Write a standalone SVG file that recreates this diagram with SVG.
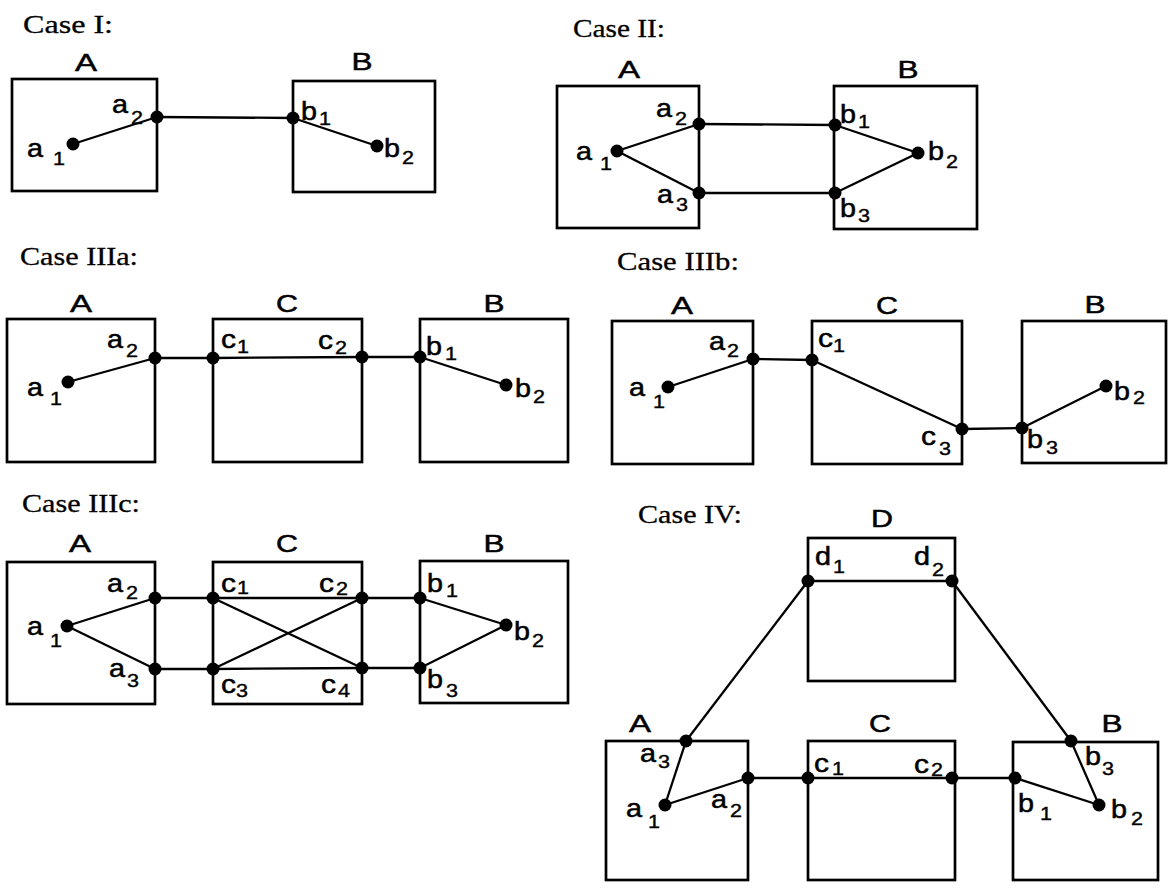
<svg xmlns="http://www.w3.org/2000/svg" width="1168" height="888" viewBox="0 0 1168 888">
<style>
.bx{fill:none;stroke:#000;stroke-width:2.7}
.ln{fill:none;stroke:#000;stroke-width:2.3}
.dt{fill:#000}
.t{font-family:"Liberation Serif","Times New Roman",serif;font-size:26px;fill:#000;stroke:#000;stroke-width:0.3}
.n{font-family:"Liberation Sans",Arial,sans-serif;font-size:24px;fill:#000;text-anchor:middle;stroke:#000;stroke-width:0.5}
.l{font-family:"Liberation Sans",Arial,sans-serif;font-size:25px;fill:#000;stroke:#000;stroke-width:0.5}
.s{font-family:"Liberation Sans",Arial,sans-serif;font-size:19px;fill:#000;stroke:#000;stroke-width:0.4}
</style>

<!-- Case I -->
<g id="caseI">
<text class="t" x="23" y="33" textLength="90" lengthAdjust="spacingAndGlyphs">Case I:</text>
<g id="caseI-A">
<rect class="bx" x="12" y="79" width="145" height="112"/>
<text class="n" x="86" y="71" textLength="22" lengthAdjust="spacingAndGlyphs">A</text>
<circle class="dt" cx="73" cy="144" r="6.5"/><circle class="dt" cx="157" cy="117" r="6.5"/>
<text class="l" x="27" y="157" textLength="16" lengthAdjust="spacingAndGlyphs">a</text><text class="s" x="53" y="165" textLength="12" lengthAdjust="spacingAndGlyphs">1</text>
<text class="l" x="112" y="113" textLength="16" lengthAdjust="spacingAndGlyphs">a</text><text class="s" x="131" y="124" textLength="12" lengthAdjust="spacingAndGlyphs">2</text>
</g>
<g id="caseI-B">
<rect class="bx" x="293" y="81" width="142" height="111"/>
<text class="n" x="362" y="70" textLength="21" lengthAdjust="spacingAndGlyphs">B</text>
<circle class="dt" cx="293" cy="118" r="6.5"/><circle class="dt" cx="377" cy="146" r="6.5"/>
<text class="l" x="301" y="120" textLength="16" lengthAdjust="spacingAndGlyphs">b</text><text class="s" x="319" y="125" textLength="12" lengthAdjust="spacingAndGlyphs">1</text>
<text class="l" x="384" y="157" textLength="16" lengthAdjust="spacingAndGlyphs">b</text><text class="s" x="402" y="164" textLength="12" lengthAdjust="spacingAndGlyphs">2</text>
</g>
<g id="caseI-edges">
<line class="ln" x1="73" y1="144" x2="157" y2="117"/>
<line class="ln" x1="157" y1="117" x2="293" y2="118"/>
<line class="ln" x1="293" y1="118" x2="377" y2="146"/>
</g>
</g>

<!-- Case II -->
<g id="caseII">
<text class="t" x="573" y="37" textLength="92" lengthAdjust="spacingAndGlyphs">Case II:</text>
<g id="caseII-A">
<rect class="bx" x="557" y="86" width="142" height="142"/>
<text class="n" x="629" y="78" textLength="22" lengthAdjust="spacingAndGlyphs">A</text>
<circle class="dt" cx="617" cy="151" r="6.5"/><circle class="dt" cx="699" cy="124" r="6.5"/><circle class="dt" cx="699" cy="193" r="6.5"/>
<text class="l" x="576" y="160" textLength="16" lengthAdjust="spacingAndGlyphs">a</text><text class="s" x="600" y="170" textLength="12" lengthAdjust="spacingAndGlyphs">1</text>
<text class="l" x="656" y="117" textLength="16" lengthAdjust="spacingAndGlyphs">a</text><text class="s" x="675" y="125" textLength="12" lengthAdjust="spacingAndGlyphs">2</text>
<text class="l" x="657" y="203" textLength="16" lengthAdjust="spacingAndGlyphs">a</text><text class="s" x="676" y="211" textLength="12" lengthAdjust="spacingAndGlyphs">3</text>
</g>
<g id="caseII-B">
<rect class="bx" x="834" y="86" width="143" height="143"/>
<text class="n" x="908" y="78" textLength="21" lengthAdjust="spacingAndGlyphs">B</text>
<circle class="dt" cx="835" cy="125" r="6.5"/><circle class="dt" cx="918" cy="153" r="6.5"/><circle class="dt" cx="835" cy="193" r="6.5"/>
<text class="l" x="840" y="123" textLength="16" lengthAdjust="spacingAndGlyphs">b</text><text class="s" x="858" y="128" textLength="12" lengthAdjust="spacingAndGlyphs">1</text>
<text class="l" x="928" y="160" textLength="16" lengthAdjust="spacingAndGlyphs">b</text><text class="s" x="946" y="168" textLength="12" lengthAdjust="spacingAndGlyphs">2</text>
<text class="l" x="840" y="217" textLength="16" lengthAdjust="spacingAndGlyphs">b</text><text class="s" x="858" y="222" textLength="12" lengthAdjust="spacingAndGlyphs">3</text>
</g>
<g id="caseII-edges">
<line class="ln" x1="617" y1="151" x2="699" y2="124"/>
<line class="ln" x1="617" y1="151" x2="699" y2="193"/>
<line class="ln" x1="699" y1="124" x2="835" y2="125"/>
<line class="ln" x1="699" y1="193" x2="835" y2="193"/>
<line class="ln" x1="835" y1="125" x2="918" y2="153"/>
<line class="ln" x1="835" y1="193" x2="918" y2="153"/>
</g>
</g>

<!-- Case IIIa -->
<g id="caseIIIa">
<text class="t" x="20" y="265" textLength="118" lengthAdjust="spacingAndGlyphs">Case IIIa:</text>
<g id="caseIIIa-A">
<rect class="bx" x="7" y="319" width="148" height="143"/>
<text class="n" x="81" y="312" textLength="22" lengthAdjust="spacingAndGlyphs">A</text>
<circle class="dt" cx="68" cy="382" r="6.5"/><circle class="dt" cx="155" cy="358" r="6.5"/>
<text class="l" x="27" y="396" textLength="16" lengthAdjust="spacingAndGlyphs">a</text><text class="s" x="50" y="405" textLength="12" lengthAdjust="spacingAndGlyphs">1</text>
<text class="l" x="107" y="348" textLength="16" lengthAdjust="spacingAndGlyphs">a</text><text class="s" x="126" y="357" textLength="12" lengthAdjust="spacingAndGlyphs">2</text>
</g>
<g id="caseIIIa-C">
<rect class="bx" x="213" y="319" width="149" height="143"/>
<text class="n" x="287" y="312" textLength="22" lengthAdjust="spacingAndGlyphs">C</text>
<circle class="dt" cx="213" cy="358" r="6.5"/><circle class="dt" cx="362" cy="357" r="6.5"/>
<text class="l" x="221" y="348" textLength="15" lengthAdjust="spacingAndGlyphs">c</text><text class="s" x="237" y="353" textLength="12" lengthAdjust="spacingAndGlyphs">1</text>
<text class="l" x="318" y="349" textLength="15" lengthAdjust="spacingAndGlyphs">c</text><text class="s" x="335" y="354" textLength="12" lengthAdjust="spacingAndGlyphs">2</text>
</g>
<g id="caseIIIa-B">
<rect class="bx" x="420" y="319" width="148" height="143"/>
<text class="n" x="494" y="312" textLength="21" lengthAdjust="spacingAndGlyphs">B</text>
<circle class="dt" cx="420" cy="357" r="6.5"/><circle class="dt" cx="506" cy="385" r="6.5"/>
<text class="l" x="426" y="355" textLength="16" lengthAdjust="spacingAndGlyphs">b</text><text class="s" x="445" y="360" textLength="12" lengthAdjust="spacingAndGlyphs">1</text>
<text class="l" x="515" y="397" textLength="16" lengthAdjust="spacingAndGlyphs">b</text><text class="s" x="533" y="403" textLength="12" lengthAdjust="spacingAndGlyphs">2</text>
</g>
<g id="caseIIIa-edges">
<line class="ln" x1="68" y1="382" x2="155" y2="358"/>
<line class="ln" x1="155" y1="358" x2="213" y2="358"/>
<line class="ln" x1="213" y1="358" x2="362" y2="357"/>
<line class="ln" x1="362" y1="357" x2="420" y2="357"/>
<line class="ln" x1="420" y1="357" x2="506" y2="385"/>
</g>
</g>

<!-- Case IIIb -->
<g id="caseIIIb">
<text class="t" x="617" y="270" textLength="122" lengthAdjust="spacingAndGlyphs">Case IIIb:</text>
<g id="caseIIIb-A">
<rect class="bx" x="612" y="321" width="141" height="143"/>
<text class="n" x="682" y="314" textLength="22" lengthAdjust="spacingAndGlyphs">A</text>
<circle class="dt" cx="668" cy="387" r="6.5"/><circle class="dt" cx="753" cy="359" r="6.5"/>
<text class="l" x="629" y="396" textLength="16" lengthAdjust="spacingAndGlyphs">a</text><text class="s" x="653" y="408" textLength="12" lengthAdjust="spacingAndGlyphs">1</text>
<text class="l" x="709" y="350" textLength="16" lengthAdjust="spacingAndGlyphs">a</text><text class="s" x="727" y="357" textLength="12" lengthAdjust="spacingAndGlyphs">2</text>
</g>
<g id="caseIIIb-C">
<rect class="bx" x="812" y="321" width="150" height="143"/>
<text class="n" x="887" y="314" textLength="22" lengthAdjust="spacingAndGlyphs">C</text>
<circle class="dt" cx="812" cy="360" r="6.5"/><circle class="dt" cx="962" cy="429" r="6.5"/>
<text class="l" x="818" y="347" textLength="15" lengthAdjust="spacingAndGlyphs">c</text><text class="s" x="833" y="352" textLength="12" lengthAdjust="spacingAndGlyphs">1</text>
<text class="l" x="921" y="445" textLength="15" lengthAdjust="spacingAndGlyphs">c</text><text class="s" x="939" y="455" textLength="12" lengthAdjust="spacingAndGlyphs">3</text>
</g>
<g id="caseIIIb-B">
<rect class="bx" x="1022" y="321" width="144" height="142"/>
<text class="n" x="1095" y="313" textLength="21" lengthAdjust="spacingAndGlyphs">B</text>
<circle class="dt" cx="1022" cy="428" r="6.5"/><circle class="dt" cx="1106" cy="386" r="6.5"/>
<text class="l" x="1027" y="448" textLength="16" lengthAdjust="spacingAndGlyphs">b</text><text class="s" x="1046" y="454" textLength="12" lengthAdjust="spacingAndGlyphs">3</text>
<text class="l" x="1114" y="400" textLength="16" lengthAdjust="spacingAndGlyphs">b</text><text class="s" x="1133" y="404" textLength="12" lengthAdjust="spacingAndGlyphs">2</text>
</g>
<g id="caseIIIb-edges">
<line class="ln" x1="668" y1="387" x2="753" y2="359"/>
<line class="ln" x1="753" y1="359" x2="812" y2="360"/>
<line class="ln" x1="812" y1="360" x2="962" y2="429"/>
<line class="ln" x1="962" y1="429" x2="1022" y2="428"/>
<line class="ln" x1="1022" y1="428" x2="1106" y2="386"/>
</g>
</g>

<!-- Case IIIc -->
<g id="caseIIIc">
<text class="t" x="22" y="512" textLength="118" lengthAdjust="spacingAndGlyphs">Case IIIc:</text>
<g id="caseIIIc-A">
<rect class="bx" x="7" y="562" width="148" height="142"/>
<text class="n" x="80" y="552" textLength="22" lengthAdjust="spacingAndGlyphs">A</text>
<circle class="dt" cx="67" cy="626" r="6.5"/><circle class="dt" cx="155" cy="598" r="6.5"/><circle class="dt" cx="155" cy="669" r="6.5"/>
<text class="l" x="27" y="635" textLength="16" lengthAdjust="spacingAndGlyphs">a</text><text class="s" x="50" y="647" textLength="12" lengthAdjust="spacingAndGlyphs">1</text>
<text class="l" x="107" y="592" textLength="16" lengthAdjust="spacingAndGlyphs">a</text><text class="s" x="126" y="599" textLength="12" lengthAdjust="spacingAndGlyphs">2</text>
<text class="l" x="109" y="677" textLength="16" lengthAdjust="spacingAndGlyphs">a</text><text class="s" x="127" y="687" textLength="12" lengthAdjust="spacingAndGlyphs">3</text>
</g>
<g id="caseIIIc-C">
<rect class="bx" x="213" y="562" width="149" height="142"/>
<text class="n" x="287" y="552" textLength="22" lengthAdjust="spacingAndGlyphs">C</text>
<circle class="dt" cx="213" cy="598" r="6.5"/><circle class="dt" cx="362" cy="598" r="6.5"/><circle class="dt" cx="213" cy="669" r="6.5"/><circle class="dt" cx="362" cy="668" r="6.5"/>
<text class="l" x="221" y="592" textLength="15" lengthAdjust="spacingAndGlyphs">c</text><text class="s" x="237" y="594" textLength="12" lengthAdjust="spacingAndGlyphs">1</text>
<text class="l" x="319" y="592" textLength="15" lengthAdjust="spacingAndGlyphs">c</text><text class="s" x="336" y="595" textLength="12" lengthAdjust="spacingAndGlyphs">2</text>
<text class="l" x="221" y="693" textLength="15" lengthAdjust="spacingAndGlyphs">c</text><text class="s" x="236" y="697" textLength="12" lengthAdjust="spacingAndGlyphs">3</text>
<text class="l" x="321" y="693" textLength="15" lengthAdjust="spacingAndGlyphs">c</text><text class="s" x="338" y="697" textLength="12" lengthAdjust="spacingAndGlyphs">4</text>
</g>
<g id="caseIIIc-B">
<rect class="bx" x="420" y="561" width="148" height="142"/>
<text class="n" x="494" y="552" textLength="21" lengthAdjust="spacingAndGlyphs">B</text>
<circle class="dt" cx="420" cy="598" r="6.5"/><circle class="dt" cx="506" cy="625" r="6.5"/><circle class="dt" cx="420" cy="668" r="6.5"/>
<text class="l" x="427" y="592" textLength="16" lengthAdjust="spacingAndGlyphs">b</text><text class="s" x="446" y="597" textLength="12" lengthAdjust="spacingAndGlyphs">1</text>
<text class="l" x="514" y="640" textLength="16" lengthAdjust="spacingAndGlyphs">b</text><text class="s" x="532" y="647" textLength="12" lengthAdjust="spacingAndGlyphs">2</text>
<text class="l" x="427" y="688" textLength="16" lengthAdjust="spacingAndGlyphs">b</text><text class="s" x="446" y="697" textLength="12" lengthAdjust="spacingAndGlyphs">3</text>
</g>
<g id="caseIIIc-edges">
<line class="ln" x1="67" y1="626" x2="155" y2="598"/>
<line class="ln" x1="67" y1="626" x2="155" y2="669"/>
<line class="ln" x1="155" y1="598" x2="213" y2="598"/>
<line class="ln" x1="155" y1="669" x2="213" y2="669"/>
<line class="ln" x1="213" y1="598" x2="362" y2="598"/>
<line class="ln" x1="213" y1="669" x2="362" y2="668"/>
<line class="ln" x1="213" y1="598" x2="362" y2="668"/>
<line class="ln" x1="213" y1="669" x2="362" y2="598"/>
<line class="ln" x1="362" y1="598" x2="420" y2="598"/>
<line class="ln" x1="362" y1="668" x2="420" y2="668"/>
<line class="ln" x1="420" y1="598" x2="506" y2="625"/>
<line class="ln" x1="420" y1="668" x2="506" y2="625"/>
</g>
</g>

<!-- Case IV -->
<g id="caseIV">
<text class="t" x="638" y="523" textLength="104" lengthAdjust="spacingAndGlyphs">Case IV:</text>
<g id="caseIV-D">
<rect class="bx" x="808" y="538" width="147" height="143"/>
<text class="n" x="882" y="527" textLength="22" lengthAdjust="spacingAndGlyphs">D</text>
<circle class="dt" cx="808" cy="581" r="6.5"/><circle class="dt" cx="952" cy="581" r="6.5"/>
<text class="l" x="815" y="565" textLength="16" lengthAdjust="spacingAndGlyphs">d</text><text class="s" x="833" y="573" textLength="12" lengthAdjust="spacingAndGlyphs">1</text>
<text class="l" x="914" y="565" textLength="16" lengthAdjust="spacingAndGlyphs">d</text><text class="s" x="932" y="576" textLength="12" lengthAdjust="spacingAndGlyphs">2</text>
</g>
<g id="caseIV-A">
<rect class="bx" x="606" y="741" width="142" height="139"/>
<text class="n" x="640" y="732" textLength="22" lengthAdjust="spacingAndGlyphs">A</text>
<circle class="dt" cx="686" cy="741" r="6.5"/><circle class="dt" cx="665" cy="805" r="6.5"/><circle class="dt" cx="748" cy="778" r="6.5"/>
<text class="l" x="640" y="762" textLength="16" lengthAdjust="spacingAndGlyphs">a</text><text class="s" x="658" y="768" textLength="12" lengthAdjust="spacingAndGlyphs">3</text>
<text class="l" x="626" y="817" textLength="16" lengthAdjust="spacingAndGlyphs">a</text><text class="s" x="648" y="828" textLength="12" lengthAdjust="spacingAndGlyphs">1</text>
<text class="l" x="711" y="808" textLength="16" lengthAdjust="spacingAndGlyphs">a</text><text class="s" x="730" y="817" textLength="12" lengthAdjust="spacingAndGlyphs">2</text>
</g>
<g id="caseIV-C">
<rect class="bx" x="808" y="741" width="147" height="139"/>
<text class="n" x="880" y="732" textLength="22" lengthAdjust="spacingAndGlyphs">C</text>
<circle class="dt" cx="808" cy="778" r="6.5"/><circle class="dt" cx="952" cy="778" r="6.5"/>
<text class="l" x="814" y="772" textLength="15" lengthAdjust="spacingAndGlyphs">c</text><text class="s" x="832" y="775" textLength="12" lengthAdjust="spacingAndGlyphs">1</text>
<text class="l" x="914" y="773" textLength="15" lengthAdjust="spacingAndGlyphs">c</text><text class="s" x="931" y="776" textLength="12" lengthAdjust="spacingAndGlyphs">2</text>
</g>
<g id="caseIV-B">
<rect class="bx" x="1013" y="742" width="145" height="138"/>
<text class="n" x="1112" y="732" textLength="21" lengthAdjust="spacingAndGlyphs">B</text>
<circle class="dt" cx="1071" cy="741" r="6.5"/><circle class="dt" cx="1015" cy="778" r="6.5"/><circle class="dt" cx="1099" cy="805" r="6.5"/>
<text class="l" x="1085" y="765" textLength="16" lengthAdjust="spacingAndGlyphs">b</text><text class="s" x="1102" y="775" textLength="12" lengthAdjust="spacingAndGlyphs">3</text>
<text class="l" x="1018" y="812" textLength="16" lengthAdjust="spacingAndGlyphs">b</text><text class="s" x="1040" y="820" textLength="12" lengthAdjust="spacingAndGlyphs">1</text>
<text class="l" x="1111" y="818" textLength="16" lengthAdjust="spacingAndGlyphs">b</text><text class="s" x="1131" y="825" textLength="12" lengthAdjust="spacingAndGlyphs">2</text>
</g>
<g id="caseIV-edges">
<line class="ln" x1="808" y1="581" x2="952" y2="581"/>
<line class="ln" x1="808" y1="581" x2="686" y2="741"/>
<line class="ln" x1="952" y1="581" x2="1071" y2="741"/>
<line class="ln" x1="686" y1="741" x2="665" y2="805"/>
<line class="ln" x1="665" y1="805" x2="748" y2="778"/>
<line class="ln" x1="748" y1="778" x2="808" y2="778"/>
<line class="ln" x1="808" y1="778" x2="952" y2="778"/>
<line class="ln" x1="952" y1="778" x2="1015" y2="778"/>
<line class="ln" x1="1015" y1="778" x2="1099" y2="805"/>
<line class="ln" x1="1071" y1="741" x2="1099" y2="805"/>
</g>
</g>
</svg>
